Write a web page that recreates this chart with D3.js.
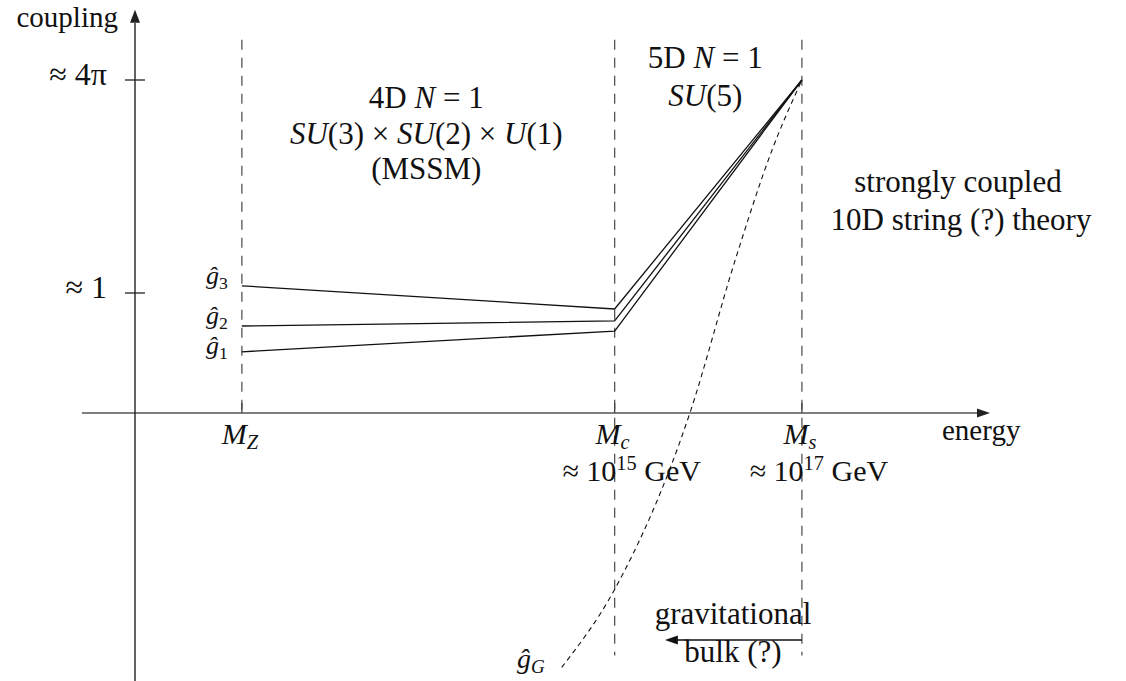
<!DOCTYPE html>
<html>
<head>
<meta charset="utf-8">
<script src="https://cdn.jsdelivr.net/npm/d3@7"></script>
<style>
  body { margin: 0; background: #fff; }
  svg text { fill: #111; }
</style>
</head>
<body>
<div id="chart"></div>
<script>
// energy in arbitrary units along the horizontal axis
var markNames = ["Z", "c", "s"];
var markEnergy = [12.5, 56.1, 78.0];
var markGeV = [null, "15", "17"];

// gauge couplings at M_Z and M_c; they all meet at M_s
var gaugeNames = ["3", "2", "1"];
var gaugeAtMZ = [1.06, 0.725, 0.51];
var gaugeAtMc = [0.867, 0.767, 0.683];
var couplingAtMs = 2.775;

// gravitational coupling
var gravEnergy = [49.9, 56.1, 64.9, 70.2, 74.5, 78.0];
var gravCoupling = [-2.12, -1.47, 0, 1.275, 2.19, 2.775];

var yTickLabels = ["≈ 1", "≈ 4π"];
var yTickValues = [1, 2.775];

var W = 1126, H = 681;
var FONT = "'Liberation Serif', 'DejaVu Serif', serif";

// Set the ranges
var x = d3.scaleLinear().domain([0, 100]).range([135, 990]);
var y = d3.scaleLinear().domain([0, 1]).range([413, 293]);

var svg = d3.select("#chart").append("svg")
    .attr("width", W)
    .attr("height", H);

svg.append("rect").attr("width", W).attr("height", H).attr("fill", "#fff");

// write text made of pieces: {t, i (italic), sub, sup}
function rich(x0, y0, parts, anchor, size) {
  size = size || 30;
  var t = svg.append("text")
    .attr("x", x0).attr("y", y0)
    .attr("font-family", FONT)
    .attr("text-anchor", anchor || "middle")
    .attr("font-size", size);
  var shift = 0;
  parts.forEach(function(p) {
    var target = p.sub ? 5 : (p.sup ? -11 : 0);
    t.append("tspan")
      .attr("dy", target - shift)
      .attr("font-style", p.i ? "italic" : "normal")
      .attr("font-size", (p.sub || p.sup) ? size * 0.68 : size)
      .text(p.t);
    shift = target;
  });
  return t;
}

// dashed verticals at the mass scales
var dashBottom = [0, -2.02, -2.02];
svg.selectAll(".vline").data(markEnergy).enter().append("line")
    .attr("class", "vline")
    .attr("x1", function(d) { return x(d); })
    .attr("x2", function(d) { return x(d); })
    .attr("y1", y(3.11))
    .attr("y2", function(d, i) { return y(dashBottom[i]); })
    .attr("stroke", "#555")
    .attr("stroke-width", 1.3)
    .attr("stroke-dasharray", "10,8");

// x axis
svg.append("line")
    .attr("x1", x(-6.2)).attr("x2", x(99))
    .attr("y1", y(0)).attr("y2", y(0))
    .attr("stroke", "#555").attr("stroke-width", 1.5);
svg.append("path")
    .attr("d", "M" + x(100) + "," + y(0) + " l-13,-4.5 l0,9 z")
    .attr("fill", "#222");

// x ticks
svg.selectAll(".xtick").data(markEnergy).enter().append("line")
    .attr("x1", function(d) { return x(d); })
    .attr("x2", function(d) { return x(d); })
    .attr("y1", y(0) - 10).attr("y2", y(0))
    .attr("stroke", "#444").attr("stroke-width", 1.3);

// y axis
svg.append("line")
    .attr("x1", x(0)).attr("x2", x(0))
    .attr("y1", H).attr("y2", y(3.25))
    .attr("stroke", "#222").attr("stroke-width", 1.4);
svg.append("path")
    .attr("d", "M" + x(0) + "," + y(3.36) + " l-5,13 l10,0 z")
    .attr("fill", "#222");

// y ticks
svg.selectAll(".ytick").data(yTickValues).enter().append("line")
    .attr("x1", x(0) - 10).attr("x2", x(0) + 10)
    .attr("y1", function(d) { return y(d); })
    .attr("y2", function(d) { return y(d); })
    .attr("stroke", "#222").attr("stroke-width", 1.3);
yTickLabels.forEach(function(lab, i) {
  rich(x(0) - 28, y(yTickValues[i]) + 5, [{t: lab}], "end", 32);
});

rich(118, 27, [{t: "coupling"}], "end", 29);
rich(942, 440, [{t: "energy"}], "start", 29);

// mass scale labels
markNames.forEach(function(nm, i) {
  rich(x(markEnergy[i]) - 2, 444, [{t: "M", i: true}, {t: nm, i: true, sub: true}], "middle");
});
markGeV.forEach(function(e, i) {
  if (!e) return;
  rich(x(markEnergy[i]) + 17, 481, [{t: "≈ 10"}, {t: e, sup: true}, {t: " GeV"}], "middle");
});

// gauge couplings
var line = d3.line()
    .x(function(d) { return x(d[0]); })
    .y(function(d) { return y(d[1]); });

gaugeNames.forEach(function(nm, i) {
  var pts = [[markEnergy[0], gaugeAtMZ[i]], [markEnergy[1], gaugeAtMc[i]], [markEnergy[2], couplingAtMs]];
  svg.append("path")
      .attr("d", line(pts))
      .attr("fill", "none")
      .attr("stroke", "#111")
      .attr("stroke-width", 1.3);
  rich(x(markEnergy[0]) - 14, y(gaugeAtMZ[i]) + (i == 2 ? 2 : -2),
       [{t: "ĝ", i: true}, {t: nm, sub: true}], "end", 26);
});

// gravitational coupling
var gline = d3.line()
    .x(function(d) { return x(d[0]); })
    .y(function(d) { return y(d[1]); })
    .curve(d3.curveMonotoneX);
svg.append("path")
    .attr("d", gline(gravEnergy.map(function(e, i) { return [e, gravCoupling[i]]; })))
    .attr("fill", "none")
    .attr("stroke", "#111")
    .attr("stroke-width", 1.1)
    .attr("stroke-dasharray", "5,4");
rich(x(gravEnergy[0]) - 17, 668, [{t: "ĝ", i: true}, {t: "G", i: true, sub: true}], "end", 28);

// bulk arrow
var arrowY = 640;
svg.append("line")
    .attr("x1", x(markEnergy[2])).attr("x2", x(markEnergy[2]) - 125)
    .attr("y1", arrowY).attr("y2", arrowY)
    .attr("stroke", "#111").attr("stroke-width", 1.4);
svg.append("path")
    .attr("d", "M" + (x(markEnergy[2]) - 137) + "," + arrowY + " l13,-4.5 l0,9 z")
    .attr("fill", "#111");
rich(733, 624, [{t: "gravitational"}], "middle", 31);
rich(733, 662, [{t: "bulk (?)"}], "middle", 31);

// region labels
var mid4 = (x(markEnergy[0]) + x(markEnergy[1])) / 2 - 2;
rich(mid4, 108, [{t: "4D "}, {t: "N", i: true}, {t: " = 1"}], "middle", 31);
rich(mid4, 144, [{t: "SU", i: true}, {t: "(3) × "}, {t: "SU", i: true}, {t: "(2) × "}, {t: "U", i: true}, {t: "(1)"}], "middle", 31);
rich(mid4, 179, [{t: "(MSSM)"}], "middle", 31);

var mid5 = (x(markEnergy[1]) + x(markEnergy[2])) / 2 - 3;
rich(mid5, 68, [{t: "5D "}, {t: "N", i: true}, {t: " = 1"}], "middle", 31);
rich(mid5, 106, [{t: "SU", i: true}, {t: "(5)"}], "middle", 31);

rich(958, 192, [{t: "strongly coupled"}], "middle", 31);
rich(961, 230, [{t: "10D string (?) theory"}], "middle", 31);
</script>
</body>
</html>
